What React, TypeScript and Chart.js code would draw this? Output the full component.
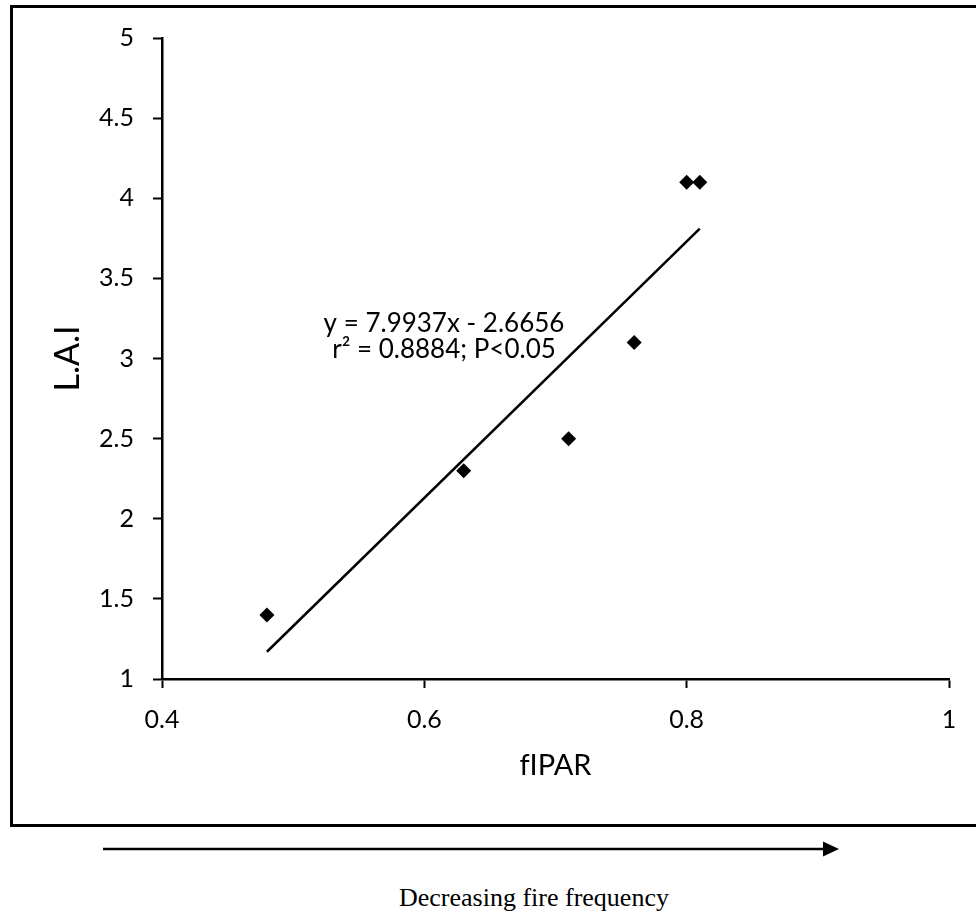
import React, { useEffect, useRef } from "react";
import { Chart, registerables } from "chart.js";

Chart.register(...registerables);

// ---- data ----
const fiparValues = [0.48, 0.63, 0.71, 0.76, 0.8, 0.81];
const laiValues = [1.4, 2.3, 2.5, 3.1, 4.1, 4.1];
const trendX = [0.48, 0.81];
const trendY = [1.17, 3.81];
const xTickValues = [0.4, 0.6, 0.8, 1];
const yTickValues = [1, 1.5, 2, 2.5, 3, 3.5, 4, 4.5, 5];
const equationLines = ["y = 7.9937x - 2.6656", "r\u00B2 = 0.8884; P<0.05"];
const equationAnchorX = 0.615;
const equationAnchorY = 3.165;
const xTitle = "fIPAR";
const yTitle = "L.A.I";
const arrowCaption = "Decreasing fire frequency";

const FONT = "Lato, 'Open Sans', sans-serif";

const equationPlugin = {
  id: "equationText",
  afterDatasetsDraw(chart: any) {
    const { ctx, scales } = chart;
    const px = scales.x.getPixelForValue(equationAnchorX);
    const py = scales.y.getPixelForValue(equationAnchorY);
    ctx.save();
    ctx.font = `26px ${FONT}`;
    ctx.fillStyle = "#000";
    ctx.textAlign = "center";
    ctx.textBaseline = "alphabetic";
    equationLines.forEach((line, i) => ctx.fillText(line, px, py + i * 26));
    ctx.restore();
  },
};

export default function App() {
  const canvasRef = useRef<HTMLCanvasElement | null>(null);

  useEffect(() => {
    if (!canvasRef.current) return;
    const chart = new Chart(canvasRef.current, {
      type: "scatter",
      data: {
        datasets: [
          {
            type: "line",
            label: "trend",
            data: trendX.map((x, i) => ({ x, y: trendY[i] })),
            borderColor: "#000",
            borderWidth: 2.5,
            pointRadius: 0,
            fill: false,
            order: 2,
          } as any,
          {
            label: "LAI",
            data: fiparValues.map((x, i) => ({ x, y: laiValues[i] })),
            pointStyle: "rectRot",
            pointRadius: 7.5,
            backgroundColor: "#000",
            borderColor: "#000",
            borderWidth: 0,
            order: 1,
          },
        ],
      },
      options: {
        animation: false,
        responsive: false,
        devicePixelRatio: 1,
        layout: { padding: { left: 0, right: 27, top: 38, bottom: 41 } },
        plugins: {
          legend: { display: false },
          tooltip: { enabled: false },
        },
        scales: {
          x: {
            type: "linear",
            min: 0.4,
            max: 1,
            afterBuildTicks: (scale: any) => {
              scale.ticks = xTickValues.map((v) => ({ value: v }));
            },
            afterFit: (scale: any) => {
              scale.height = 110;
            },
            grid: {
              drawOnChartArea: false,
              drawTicks: true,
              tickLength: 9,
              tickWidth: 2,
              tickColor: "#000",
            },
            border: { display: true, color: "#000", width: 2.5 },
            ticks: {
              color: "#000",
              font: { family: FONT, size: 25 },
              padding: 17,
              maxRotation: 0,
              callback: (v: any) => String(Math.round(Number(v) * 10) / 10),
            },
            title: {
              display: true,
              text: xTitle,
              color: "#000",
              font: { family: FONT, size: 29 },
              padding: { top: 0, bottom: 6 },
            },
          },
          y: {
            type: "linear",
            min: 1,
            max: 5,
            afterBuildTicks: (scale: any) => {
              scale.ticks = yTickValues.map((v) => ({ value: v }));
            },
            afterFit: (scale: any) => {
              scale.width = 162;
            },
            grid: {
              drawOnChartArea: false,
              drawTicks: true,
              tickLength: 9,
              tickWidth: 2,
              tickColor: "#000",
            },
            border: { display: true, color: "#000", width: 2.5 },
            ticks: {
              color: "#000",
              font: { family: FONT, size: 25 },
              padding: 19,
              callback: (v: any) => String(Math.round(Number(v) * 10) / 10),
            },
            title: {
              display: true,
              text: yTitle,
              color: "#000",
              font: { family: FONT, size: 34 },
              padding: { top: 48, bottom: 0 },
            },
          },
        },
      },
      plugins: [equationPlugin],
    } as any);
    return () => chart.destroy();
  }, []);

  return (
    <div
      style={{
        position: "absolute",
        left: 0,
        top: 0,
        width: 976,
        height: 919,
        overflow: "hidden",
        background: "#fff",
      }}
    >
      <div
        style={{
          position: "absolute",
          left: 10,
          top: 5,
          width: 1000,
          height: 822,
          boxSizing: "border-box",
          border: "3px solid #000",
        }}
      />
      <canvas
        ref={canvasRef}
        width={976}
        height={830}
        style={{ position: "absolute", left: 0, top: 0, width: 976, height: 830 }}
      />
      <svg
        width={976}
        height={40}
        style={{ position: "absolute", left: 0, top: 830 }}
      >
        <line x1={103} y1={19} x2={826} y2={19} stroke="#000" strokeWidth={2.5} />
        <polygon points="823,11.5 839,19 823,26.5" fill="#000" />
      </svg>
      <div
        style={{
          position: "absolute",
          left: 399,
          top: 885,
          fontFamily: "'Liberation Serif', 'Times New Roman', serif",
          fontSize: 26,
          lineHeight: "26px",
          whiteSpace: "nowrap",
          color: "#000",
        }}
      >
        {arrowCaption}
      </div>
    </div>
  );
}
